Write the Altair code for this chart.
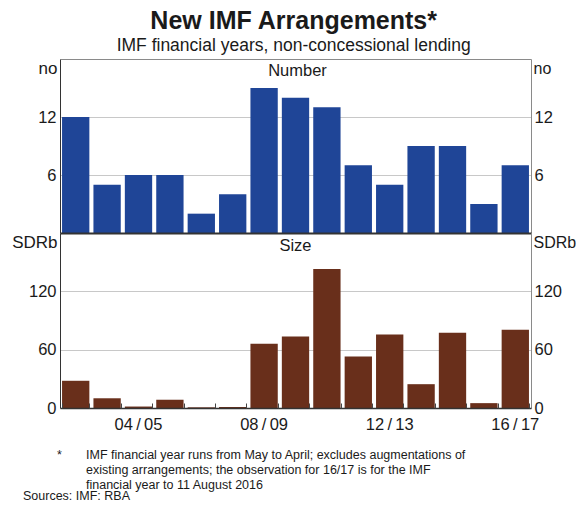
import altair as alt
import pandas as pd

years = ["02/03", "03/04", "04/05", "05/06", "06/07", "07/08", "08/09", "09/10",
         "10/11", "11/12", "12/13", "13/14", "14/15", "15/16", "16/17"]
number = [12, 5, 6, 6, 2, 4, 15, 14, 13, 7, 5, 9, 9, 3, 7]
size_sdrb = [28, 10, 1.5, 8.5, 0.7, 1, 66, 73.5, 143, 53, 75.5, 24.5, 77.5, 5, 80.5]
label_years = ["04/05", "08/09", "12/13", "16/17"]
number_ticks = [6, 12]
size_ticks = [0, 60, 120]
footnote_lines = [
    "IMF financial year runs from May to April; excludes augmentations of",
    "existing arrangements; the observation for 16/17 is for the IMF",
    "financial year to 11 August 2016",
]
sources_text = "Sources:  IMF: RBA"

df = pd.DataFrame({"year": years, "number": number, "size": size_sdrb})

FONT = "Liberation Sans"
W, H1, H2 = 471, 174, 175
BLUE = "#1f4597"
BROWN = "#692f1b"
DARK = "#333333"
GREY = "#8a8a8a"
INK = "#1a1a1a"

xscale = alt.Scale(domain=years, paddingInner=0.13, paddingOuter=0.065)


def yaxis(orient, values, title, grid):
    left = orient == "left"
    return alt.Axis(
        orient=orient, values=values, title=title, titleAngle=0,
        titleX=-3 if left else 2, titleY=9, titleAlign="right" if left else "left",
        titleBaseline="middle", titleFontWeight="normal",
        titleFontSize=17 if left else 16,
        titleFont=FONT, titleColor=INK,
        labelFontSize=16.5, labelFont=FONT, labelColor=INK,
        labelPadding=4 if left else 3, ticks=False,
        domain=True, domainColor=DARK if left else GREY, domainWidth=1,
        grid=grid, gridColor="#c8c8c8", gridWidth=1,
    )


def text_chart(text, x, y, size, align="center"):
    return alt.Chart(pd.DataFrame({"t": [text]})).mark_text(
        font=FONT, fontSize=size, color=INK, baseline="middle", align=align
    ).encode(text="t:N", x=alt.value(x), y=alt.value(y))


# ---- top panel
ys_top = alt.Scale(domain=[0, 18], nice=False)
top_bars = alt.Chart(df).mark_bar(color=BLUE).encode(
    x=alt.X("year:N", sort=years, scale=xscale,
            axis=alt.Axis(orient="bottom", labels=False, ticks=False, title=None,
                          domainColor=DARK, domainWidth=2, grid=False, zindex=1)),
    y=alt.Y("number:Q", scale=ys_top, axis=yaxis("left", number_ticks, "no", True)),
)
top_hidden = alt.Chart(df).mark_bar(opacity=0).encode(
    x=alt.X("year:N", sort=years, scale=xscale,
            axis=alt.Axis(orient="top", labels=False, ticks=False, title=None,
                          domainColor=GREY, grid=False)),
    y=alt.Y("number:Q", scale=ys_top, axis=yaxis("right", number_ticks, "no", False)),
)
top = alt.layer(top_bars, top_hidden, text_chart("Number", W / 2 + 2, 12, 16.5)).resolve_axis(
    x="independent", y="independent").properties(width=W, height=H1)

# ---- bottom panel
ys_bot = alt.Scale(domain=[0, 180], nice=False)
lab_expr = "replace(datum.value, '/', '\u2009/\u2009')"
bot_bars = alt.Chart(df).mark_bar(color=BROWN).encode(
    x=alt.X("year:N", sort=years, scale=xscale,
            axis=alt.Axis(orient="bottom", values=label_years, labelExpr=lab_expr,
                          ticks=False, title=None, labelAngle=0, labelFontSize=16.5,
                          labelFont=FONT, labelColor=INK, labelPadding=8,
                          domainColor=DARK, domainWidth=1.5, grid=False, zindex=1)),
    y=alt.Y("size:Q", scale=ys_bot, axis=yaxis("left", size_ticks, "SDRb", True)),
)
bot_hidden = alt.Chart(df).mark_bar(opacity=0).encode(
    x=alt.X("year:N", sort=years, scale=xscale,
            axis=alt.Axis(orient="bottom", offset=-5, domain=False, labels=False,
                          ticks=True, tickBand="extent", tickSize=5, tickColor="#444",
                          title=None, grid=False, zindex=1)),
    y=alt.Y("size:Q", scale=ys_bot, axis=yaxis("right", size_ticks, "SDRb", False)),
)
bottom = alt.layer(bot_bars, bot_hidden, text_chart("Size", W / 2, 13, 16.5)).resolve_axis(
    x="independent", y="independent").properties(width=W, height=H2)

# ---- footnotes
FS = 12.5
fn_layers = [text_chart("*", -3, 22, FS, "left")]
for i, line in enumerate(footnote_lines):
    fn_layers.append(text_chart(line, 26, 22 + 15 * i, FS, "left"))
fn_layers.append(text_chart(sources_text, -37, 63, FS, "left"))
foot = alt.layer(*fn_layers).properties(width=W, height=65)

chart = alt.vconcat(top, bottom, foot, spacing=0).properties(
    title=alt.TitleParams(
        text="New IMF Arrangements*",
        subtitle="IMF financial years, non-concessional lending",
        font=FONT, fontSize=25, fontWeight="bold", color=INK,
        subtitleFont=FONT, subtitleFontSize=17.5, subtitleColor=INK,
        anchor="middle", subtitlePadding=3, offset=5,
    ),
    padding={"left": 3, "top": 0, "right": 0, "bottom": 0},
).configure(font=FONT, view=alt.ViewConfig(strokeWidth=0))

chart.save("out.html", embed_options={"renderer": "svg", "actions": False})
